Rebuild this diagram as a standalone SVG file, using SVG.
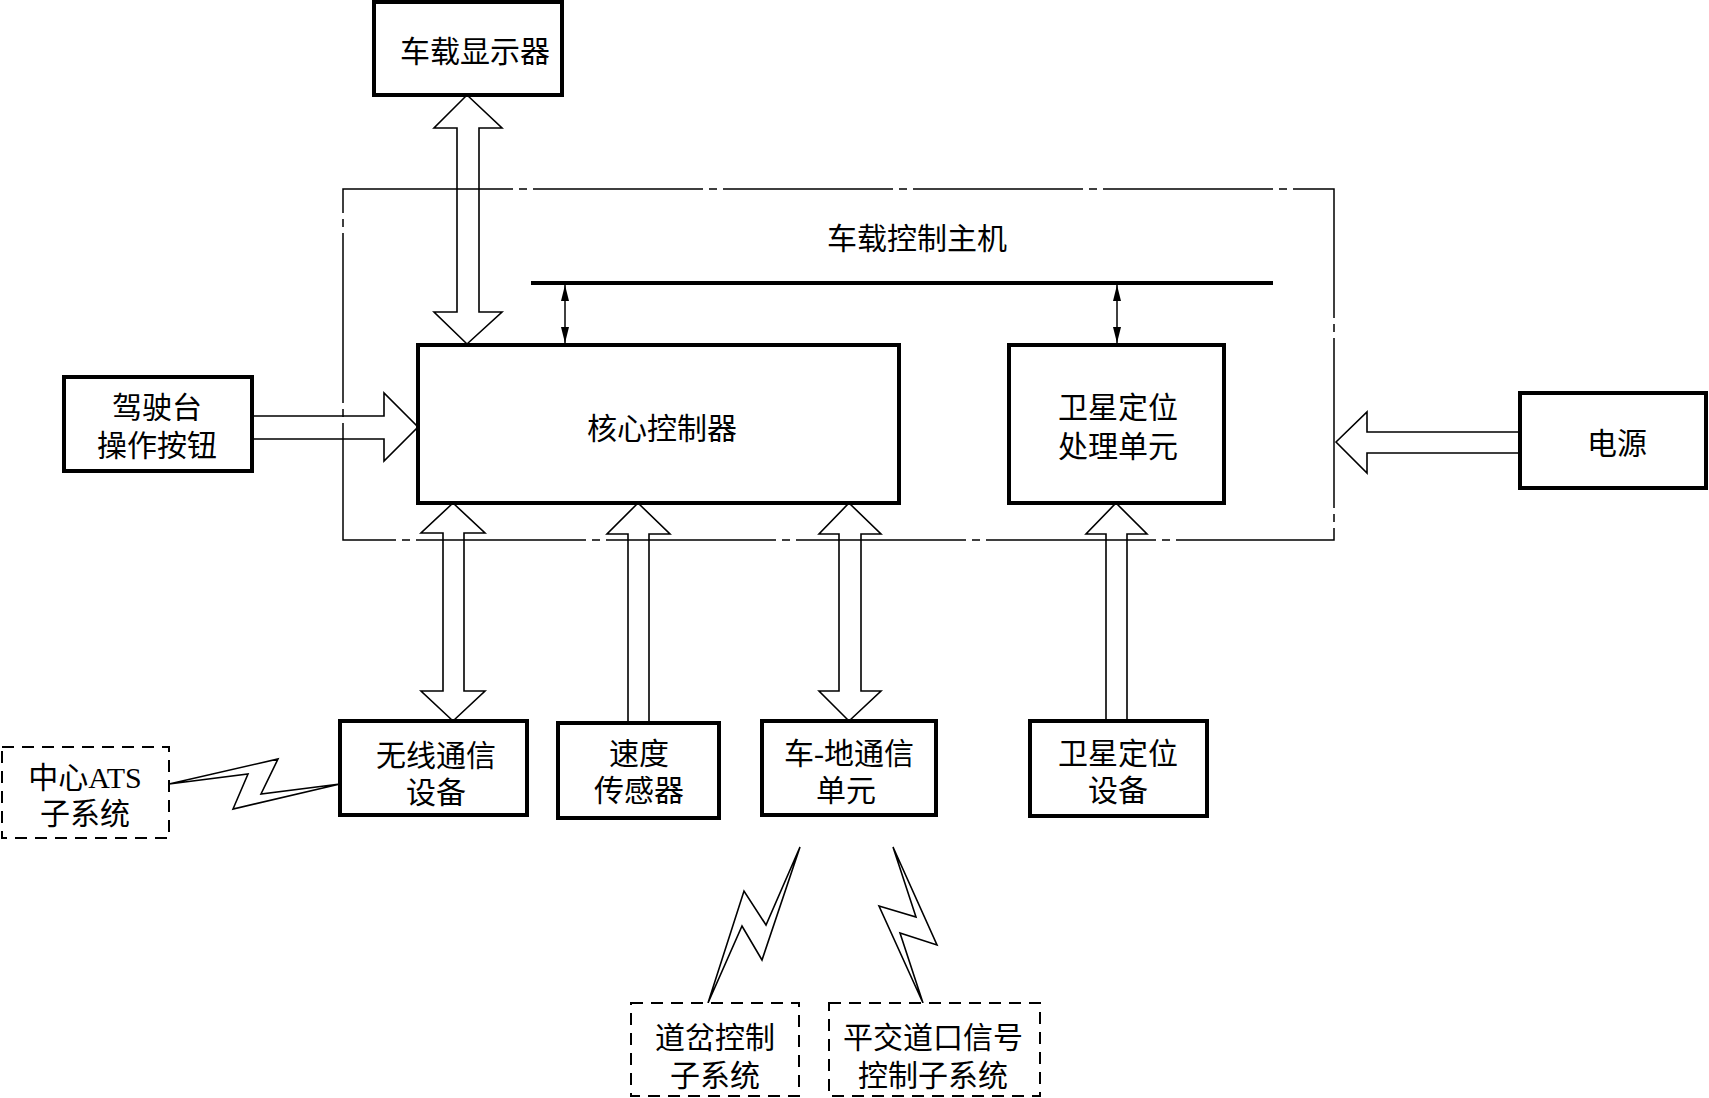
<svg xmlns="http://www.w3.org/2000/svg" width="1709" height="1098" viewBox="0 0 1709 1098">
<style>
.box{fill:#fff;stroke:#000;stroke-width:4}
.dbox{fill:#fff;stroke:#000;stroke-width:2;stroke-dasharray:12 8}
.frame{fill:none;stroke:#000;stroke-width:1.5;stroke-dasharray:170 6 8 6}
.arr{fill:#fff;stroke:#000;stroke-width:1.6;stroke-linejoin:miter}
.bolt{fill:#fff;stroke:#000;stroke-width:1.6}
.bus{stroke:#000;stroke-width:4}
.thin{stroke:#000;stroke-width:1.5}
text{font-family:'Liberation Serif','Noto Sans CJK SC',serif;font-size:30px;fill:#000;text-anchor:middle;dominant-baseline:central}
</style>
<defs>
<marker id="ah" viewBox="0 0 16 8" refX="16" refY="4" markerWidth="16" markerHeight="8" markerUnits="userSpaceOnUse" orient="auto-start-reverse">
<path d="M0,0 L16,4 L0,8 Z" fill="#000"/>
</marker>
</defs>
<rect width="1709" height="1098" fill="#fff"/>
<g id="connectors">
<line class="bus" x1="531" y1="283" x2="1273" y2="283"/>
<line class="thin" x1="565" y1="285" x2="565" y2="343" marker-start="url(#ah)" marker-end="url(#ah)"/>
<line class="thin" x1="1117" y1="285" x2="1117" y2="343" marker-start="url(#ah)" marker-end="url(#ah)"/>
<polygon class="arr" points="467,95 502,128 479,128 479,312 502,312 467,344 434,312 457,312 457,128 434,128"/>
<polygon class="arr" points="252,416 384,416 384,393 418,427 384,461 384,439 252,439"/>
<polygon class="arr" points="453,503 485,533 464,533 464,691 485,691 453,721 421,691 443,691 443,533 421,533"/>
<polygon class="arr" points="638,503 670,534 649,534 649,723 628,723 628,534 607,534"/>
<polygon class="arr" points="849,503 881,534 861,534 861,691 881,691 849,721 819,691 839,691 839,534 819,534"/>
<polygon class="arr" points="1116,503 1147,534 1127,534 1127,721 1106,721 1106,534 1086,534"/>
<polygon class="arr" points="1336,442 1367,412 1367,432 1520,432 1520,453 1367,453 1367,473"/>
<polygon class="bolt" points="169,784 278,759 261,794 340,784 233,809 248,774"/>
<polygon class="bolt" points="708,1003 744,891 766,925 800,847 762,960 742,926"/>
<polygon class="bolt" points="893,847 937,945 900,933 923,1003 879,906 916,917"/>
</g>
<g id="host"><rect class="frame" x="343" y="189" width="991" height="351"/><text x="917" y="238">车载控制主机</text></g>
<g id="display"><rect class="box" x="374" y="2" width="188" height="93"/><text x="475" y="51">车载显示器</text></g>
<g id="console"><rect class="box" x="64" y="377" width="188" height="94"/><text x="157" y="407">驾驶台</text><text x="157" y="445">操作按钮</text></g>
<g id="core"><rect class="box" x="418" y="345" width="481" height="158"/><text x="662" y="428">核心控制器</text></g>
<g id="sat-proc"><rect class="box" x="1009" y="345" width="215" height="158"/><text x="1118" y="407">卫星定位</text><text x="1118" y="446">处理单元</text></g>
<g id="power"><rect class="box" x="1520" y="393" width="186" height="95"/><text x="1617" y="443">电源</text></g>
<g id="wireless"><rect class="box" x="340" y="721" width="187" height="94"/><text x="436" y="755">无线通信</text><text x="436" y="792">设备</text></g>
<g id="speed"><rect class="box" x="558" y="723" width="161" height="95"/><text x="639" y="753">速度</text><text x="639" y="790">传感器</text></g>
<g id="car-ground"><rect class="box" x="762" y="721" width="174" height="94"/><text x="849" y="753">车-地通信</text><text x="846" y="790">单元</text></g>
<g id="sat-device"><rect class="box" x="1030" y="721" width="177" height="95"/><text x="1118" y="753">卫星定位</text><text x="1118" y="790">设备</text></g>
<g id="ats"><rect class="dbox" x="2" y="747" width="167" height="91"/><text x="85" y="777">中心ATS</text><text x="85" y="813">子系统</text></g>
<g id="switch"><rect class="dbox" x="631" y="1003" width="168" height="93"/><text x="715" y="1037">道岔控制</text><text x="715" y="1075">子系统</text></g>
<g id="crossing"><rect class="dbox" x="829" y="1003" width="211" height="93"/><text x="933" y="1037">平交道口信号</text><text x="933" y="1075">控制子系统</text></g>
</svg>
